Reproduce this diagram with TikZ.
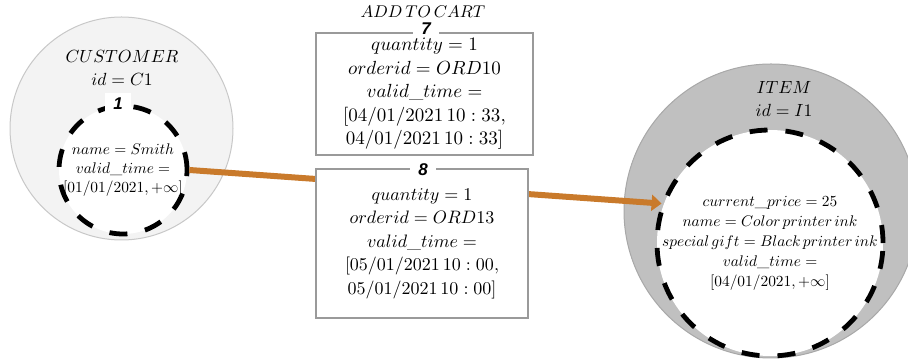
\documentclass[tikz,border=0pt]{standalone}
\usepackage{fontspec}
\newfontfamily\lblfont{Liberation Sans}
\usetikzlibrary{arrows.meta}

% math fonts: one design size, scaled freely
\DeclareFontFamily{OML}{cmm}{\skewchar\font127 }
\DeclareFontShape{OML}{cmm}{m}{it}{<->cmmi10}{}
\DeclareFontShape{OML}{cmm}{b}{it}{<->cmmib10}{}
\DeclareFontFamily{OMS}{cmsy}{\skewchar\font48 }
\DeclareFontShape{OMS}{cmsy}{m}{n}{<->cmsy10}{}
\DeclareFontFamily{OT1}{cmr}{\hyphenchar\font45 }
\DeclareFontShape{OT1}{cmr}{m}{n}{<->cmr10}{}
\DeclareFontShape{OT1}{cmr}{m}{it}{<->cmti10}{}
\DeclareFontShape{OT1}{cmr}{bx}{n}{<->cmbx10}{}

\definecolor{custfill}{HTML}{F3F3F3}
\definecolor{custline}{HTML}{C8C8C8}
\definecolor{itemfill}{HTML}{C0C0C0}
\definecolor{itemline}{HTML}{A8A8A8}
\definecolor{boxline}{HTML}{9A9A9A}
\definecolor{linkcol}{HTML}{C97A2B}

% small gap between words inside math
\newcommand{\wgap}{\mkern2.5mu}

\begin{document}
\begin{tikzpicture}[x=0.5pt,y=-0.5pt,
  outer/.style={circle, inner sep=0pt, line width=0.5pt},
  state/.style={circle, draw=black, fill=white, line width=2.4pt,
    dash pattern=on 9pt off 9pt, inner sep=0pt},
  statetext/.style={align=center, inner sep=0pt, font=\fontsize{7.7}{9.5}\selectfont},
  title/.style={align=center, inner sep=0pt, font=\fontsize{8.8}{11.5}\selectfont},
  recbox/.style={draw=boxline, line width=0.6pt, fill=white, align=center,
    inner sep=0pt, font=\fontsize{9.5}{11.75}\selectfont},
  tag/.style={fill=white, inner xsep=4pt, inner ysep=1.5pt,
    font=\lblfont\fontsize{8.5}{9}\bfseries\itshape\selectfont},
  link/.style={draw=linkcol, line width=3pt}
]
\useasboundingbox (0,0) rectangle (908,362);

% customer entity
\node[outer, fill=custfill, draw=custline, minimum size=111.5pt] (cout) at (121.5,128.5) {};
\node[title] (ctitle) at (122,68) {$CUSTOMER$\\$id = C1$};
\node[state, minimum size=64pt] (cin) at (123,170) {};
\node[statetext] (ctext) at (cin.center)
  {$name = Smith$\\$valid\_time =$\\$[01/01/2021, +\infty]$};
\node[tag, inner ysep=2.5pt] (ctag) at (118,104) {1};

% item entity
\node[outer, fill=itemfill, draw=itemline, minimum size=147pt] (iout) at (771,211) {};
\node[title] (ititle) at (784,98.5) {$ITEM$\\$id = I1$};
\node[state, minimum size=113pt] (iin) at (770,243) {};
\node[statetext, font=\fontsize{7.7}{10}\selectfont] (itext) at (iin.center)
  {$current\_price = 25$\\$name = Color\wgap printer\wgap ink$\\
   $special\wgap gift = Black\wgap printer\wgap ink$\\$valid\_time =$\\$[04/01/2021, +\infty]$};

% relationship records
\node[title, font=\fontsize{8.5}{10}\selectfont] (cartname) at (423,12) {$ADD\,TO\,CART$};
\node[recbox, minimum width=108.5pt, minimum height=61pt] (cart7) at (424.5,94)
  {$quantity = 1$\\$orderid = ORD10$\\$valid\_time =$\\
   $[04/01/2021\,10:33,$\\$04/01/2021\,10:33]$};
\node[tag, inner ysep=0.5pt] (tag7) at (426,29) {7};

\draw[link, -{Triangle[length=5pt,width=8pt]}] (cin.east) -- (iin.160);

\node[recbox, font=\fontsize{9}{11.75}\selectfont,
  minimum width=106pt, minimum height=74.5pt] (cart8) at (422,243.5)
  {$quantity = 1$\\$orderid = ORD13$\\$valid\_time =$\\
   $[05/01/2021\,10:00,$\\$05/01/2021\,10:00]$};
\node[tag] (tag8) at (423,170) {8};
\end{tikzpicture}
\end{document}
